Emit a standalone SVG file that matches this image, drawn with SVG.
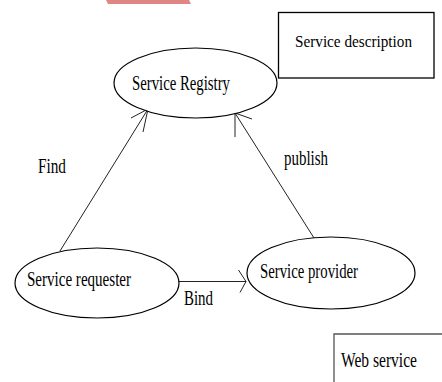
<svg xmlns="http://www.w3.org/2000/svg" width="442" height="382" viewBox="0 0 442 382">
<style>
.bg{fill:#ffffff}
.node{fill:#ffffff;stroke:#000000;stroke-width:1.2}
.box{fill:#ffffff;stroke:#000000;stroke-width:1.3}
.edge{fill:none;stroke:#222222;stroke-width:1}
.lbl{font-family:"Liberation Serif","Times New Roman",serif;font-size:20px;fill:#000000}
.sm{font-size:17.5px}
</style>
<rect class="bg" x="0" y="0" width="442" height="382"/>
<polygon points="106,0 189,0 191,4 108,4" fill="#e08585"/>
<g id="connectors">
  <g id="find">
    <line class="edge" x1="60" y1="251" x2="148" y2="109"/>
    <polyline class="edge" points="131,118 148,109 143,132"/>
  </g>
  <g id="publish">
    <line class="edge" x1="314" y1="238" x2="235" y2="113"/>
    <polyline class="edge" points="235,137 235,113 252,119"/>
  </g>
  <g id="bind">
    <line class="edge" x1="179" y1="281.5" x2="246" y2="281.5"/>
    <polyline class="edge" points="238.5,270 246,281.5 240,292.5"/>
  </g>
  <text class="lbl" x="38" y="173" textLength="28" lengthAdjust="spacingAndGlyphs">Find</text>
  <text class="lbl" x="284" y="165" textLength="44" lengthAdjust="spacingAndGlyphs">publish</text>
  <text class="lbl" x="184" y="305" textLength="29" lengthAdjust="spacingAndGlyphs">Bind</text>
</g>
<g id="service-registry">
  <ellipse class="node" cx="195.5" cy="83" rx="81.5" ry="35"/>
  <text class="lbl" x="132" y="90" textLength="98" lengthAdjust="spacingAndGlyphs">Service Registry</text>
</g>
<g id="service-requester">
  <ellipse class="node" cx="97" cy="283" rx="82" ry="35"/>
  <text class="lbl" x="27" y="286" textLength="104" lengthAdjust="spacingAndGlyphs">Service requester</text>
</g>
<g id="service-provider">
  <ellipse class="node" cx="331" cy="273" rx="84" ry="36"/>
  <text class="lbl" x="260" y="278" textLength="98" lengthAdjust="spacingAndGlyphs">Service provider</text>
</g>
<g id="service-description">
  <rect class="box" x="278.5" y="12.5" width="155.5" height="65.5"/>
  <text class="lbl sm" x="295" y="47" textLength="117" lengthAdjust="spacingAndGlyphs">Service description</text>
</g>
<g id="web-service">
  <polyline points="334,382 334,334 442,334" fill="none" stroke="#555555" stroke-width="1.3"/>
  <text class="lbl" x="341" y="367" textLength="76" lengthAdjust="spacingAndGlyphs">Web service</text>
</g>
</svg>
